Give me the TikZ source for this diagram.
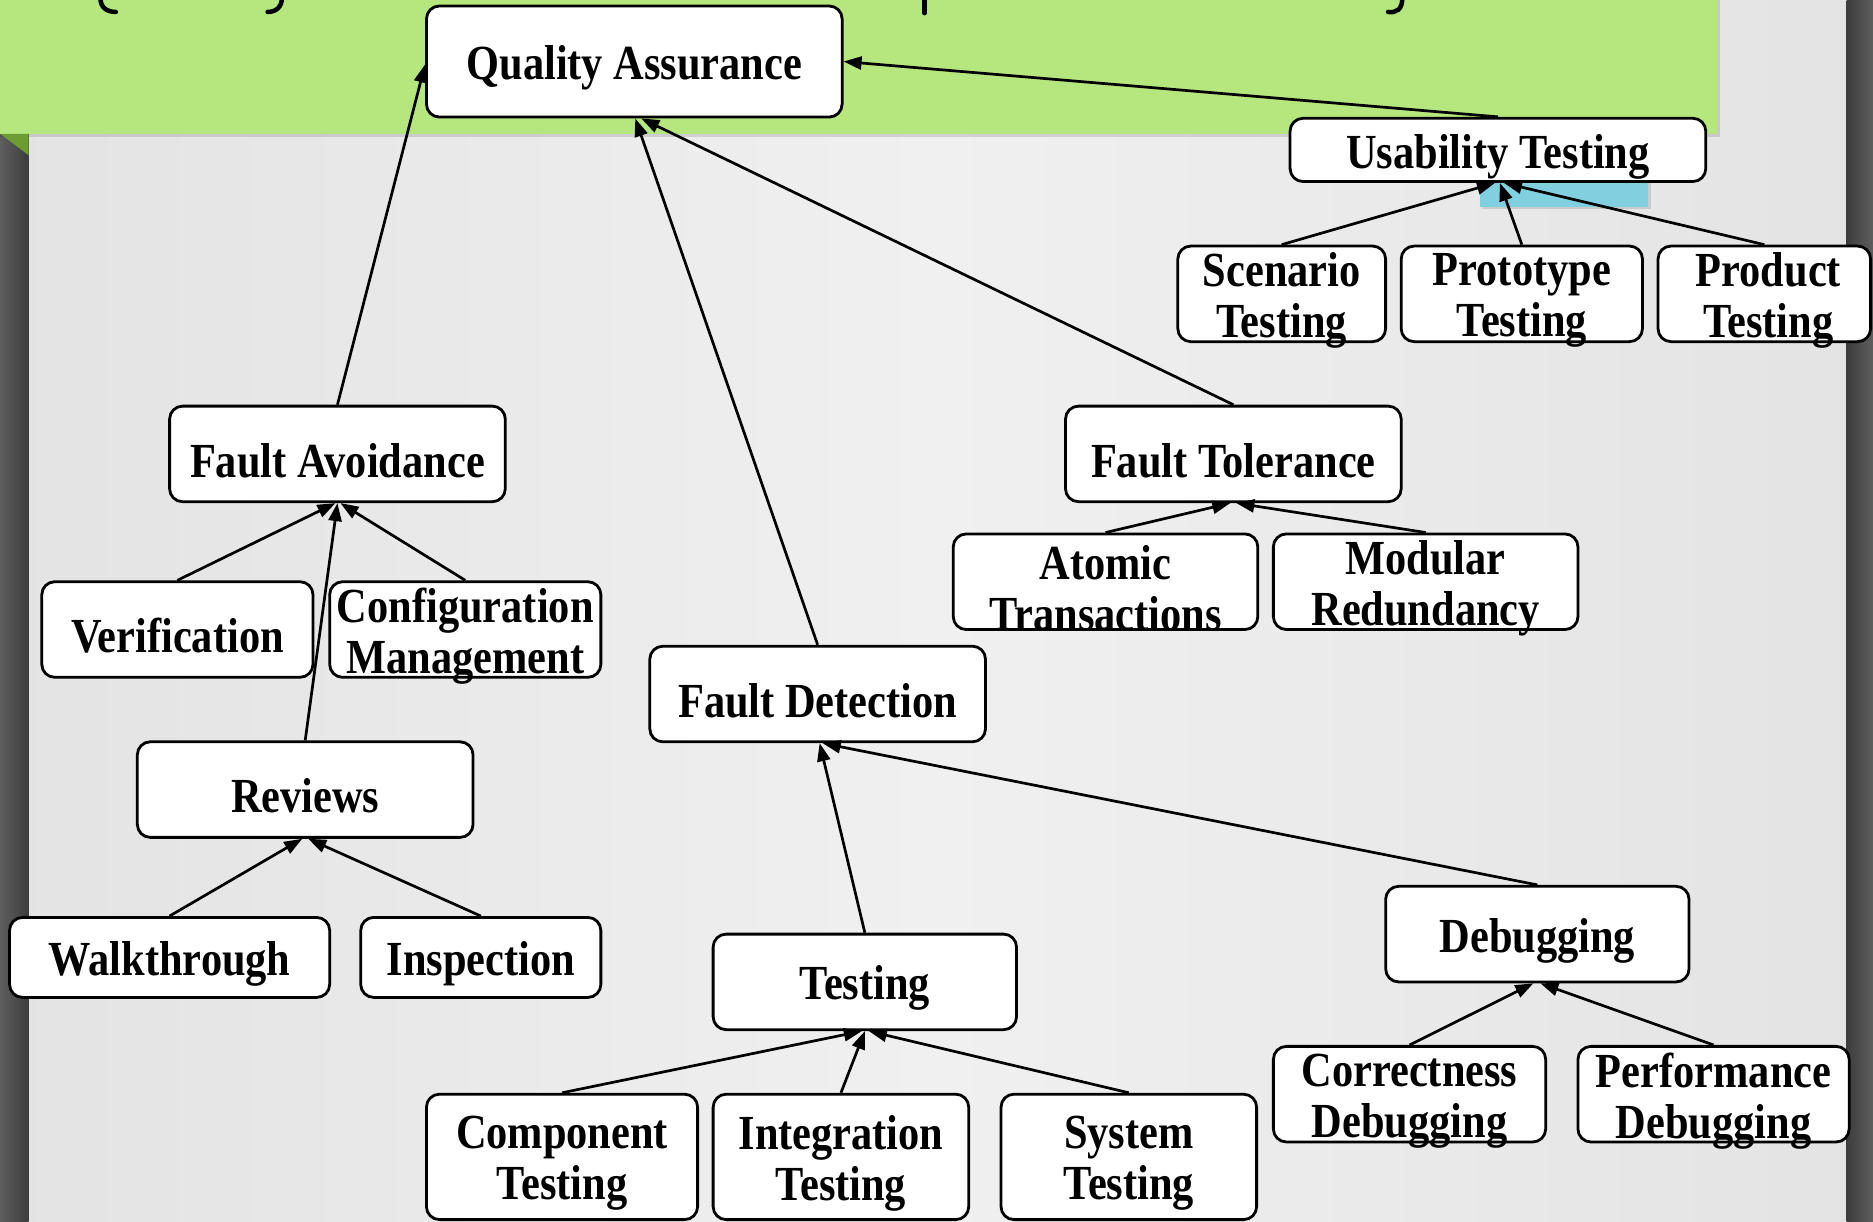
\documentclass[tikz,border=0pt]{standalone}
\usepackage{fontspec}
\setmainfont{Liberation Serif}[FakeStretch=0.865]
\usetikzlibrary{arrows.meta}
\definecolor{bgedge}{HTML}{E3E3E3}
\definecolor{bgmid}{HTML}{F0F0F0}
\definecolor{banner}{HTML}{B6E67E}
\definecolor{bannerdark}{HTML}{6C9C32}
\definecolor{stripdark}{HTML}{3C3C3C}
\definecolor{striplight}{HTML}{5E5E5E}
\definecolor{cyanbox}{HTML}{80D0DF}
\newcommand{\txshift}{13pt}
\newcommand{\bxt}[3]{\parbox[c][#2][c]{#1}{\centering\vspace*{\txshift}#3\par}}
\tikzset{
  box/.style={draw=black, line width=2.8pt, fill=white, rounded corners=13pt,
    inner sep=0pt, font=\fontsize{49}{51}\selectfont\bfseries},
  edge/.style={line width=2.7pt, -{Triangle[length=18pt,width=13pt]}},
  frag/.style={line width=4.5pt, line cap=round}
}
\begin{document}
\begin{tikzpicture}[x=1.1945pt,y=-1.1945pt]
\useasboundingbox (0,0) rectangle (1568,1023);
% background
\shade[left color=bgedge, right color=bgedge, middle color=bgmid] (0,0) rectangle (1568,1023);
\shade[left color=striplight, right color=stripdark] (0,112) rectangle (24,1023);
\shade[left color=stripdark, right color=striplight] (1546,0) rectangle (1568,1023);
% banner
\fill[black, opacity=0.12] (0,0) rectangle (1440,115);
\fill[banner] (0,0) rectangle (1437,112);
\fill[bannerdark] (0,112) -- (24,112) -- (24,130) -- cycle;
% title fragments
\draw[frag] (84,-2) .. controls (84,6) and (89,10) .. (97,10);
\draw[frag] (236,-2) .. controls (236,6) and (231,10) .. (224,10);
\draw[frag] (774,-2) -- (774,11);
\draw[frag] (1174,-2) .. controls (1174,8) and (1169,11) .. (1162,10);
% cyan rectangle
\fill[black, opacity=0.12] (1241,140) rectangle (1382,175);
\fill[cyanbox] (1239,140) rectangle (1380,173);

% nodes
\node[box] (qa) at (531,51.5) {\bxt{415.7pt}{111.1pt}{Quality Assurance}};
\node[box] (ut) at (1254,125.5) {\bxt{415.7pt}{63.3pt}{Usability Testing}};
\node[box] (sc) at (1073,246) {\bxt{207.8pt}{95.6pt}{Scenario\\Testing}};
\node[box] (proto) at (1274,246) {\bxt{241.3pt}{95.6pt}{Prototype\\Testing}};
\node[box] (prod) at (1477,246) {\bxt{212.6pt}{95.6pt}{\hspace*{8pt}Product\\\hspace*{8pt}Testing}};
\node[box] (fa) at (282.5,380) {\bxt{335.7pt}{95.6pt}{Fault Avoidance}};
\node[box] (ft) at (1032.5,380) {\bxt{335.7pt}{95.6pt}{Fault Tolerance}};
\node[box] (ver) at (148.5,527) {\bxt{271.2pt}{95.6pt}{Verification}};
\node[box] (cm) at (389.5,527) {\bxt{271.2pt}{95.6pt}{Configuration\\Management}};
\node[box] (atom) at (925.5,487) {\bxt{304.6pt}{95.6pt}{Atomic\\Transactions}};
\node[box] (mod) at (1193.5,487) {\bxt{304.6pt}{95.6pt}{Modular\\Redundancy}};
\node[box] (fd) at (684.5,581) {\bxt{335.7pt}{95.6pt}{Fault Detection}};
\node[box] (rev) at (255.5,661) {\bxt{335.7pt}{95.6pt}{Reviews}};
\node[box] (walk) at (142,801.5) {\bxt{320.1pt}{80pt}{Walkthrough}};
\node[box] (insp) at (402.5,801.5) {\bxt{240.1pt}{80pt}{Inspection}};
\node[box] (test) at (724,822) {\bxt{303.4pt}{95.6pt}{Testing}};
\node[box] (dbg) at (1287,782) {\bxt{303.4pt}{95.6pt}{Debugging}};
\node[box] (comp) at (470.5,968.5) {\bxt{271.2pt}{125.4pt}{Component\\Testing}};
\node[box] (integ) at (704,968.5) {\bxt{255.6pt}{125.4pt}{Integration\\Testing}};
\node[box] (sys) at (945,968.5) {\bxt{255.6pt}{125.4pt}{System\\Testing}};
\node[box] (corr) at (1180,916) {\bxt{272.3pt}{95.6pt}{Correctness\\Debugging}};
\node[box] (perf) at (1434.5,916) {\bxt{271.2pt}{95.6pt}{Performance\\Debugging}};

% edges
\draw[edge] (fa.north) -- ([yshift=-3pt]qa.west);
\draw[edge] (fd.north) -- ([xshift=1pt]qa.south);
\draw[edge] (ft.north) -- ([xshift=7pt]qa.south);
\draw[edge] (ut.north) -- (qa.east);
\draw[edge] (ver.north) -- ([xshift=-2pt]fa.south);
\draw[edge] (cm.north) -- ([xshift=3pt]fa.south);
\draw[edge] (rev.north) -- (fa.south);
\draw[edge] (walk.north) -- ([xshift=-3pt]rev.south);
\draw[edge] (insp.north) -- ([xshift=3pt]rev.south);
\draw[edge] (atom.north) -- ([xshift=-3pt]ft.south);
\draw[edge] (mod.north) -- ([xshift=3pt]ft.south);
\draw[edge] (sc.north) -- ([xshift=-3pt]ut.south);
\draw[edge] (proto.north) -- ([xshift=2pt]ut.south);
\draw[edge] (prod.north) -- ([xshift=6pt]ut.south);
\draw[edge] (test.north) -- ([xshift=2pt]fd.south);
\draw[edge] (dbg.north) -- ([xshift=5pt]fd.south);
\draw[edge] (comp.north) -- ([xshift=-3pt]test.south);
\draw[edge] (integ.north) -- (test.south);
\draw[edge] (sys.north) -- ([xshift=4pt]test.south);
\draw[edge] (corr.north) -- ([xshift=-4pt]dbg.south);
\draw[edge] (perf.north) -- ([xshift=3pt]dbg.south);
\end{tikzpicture}
\end{document}
